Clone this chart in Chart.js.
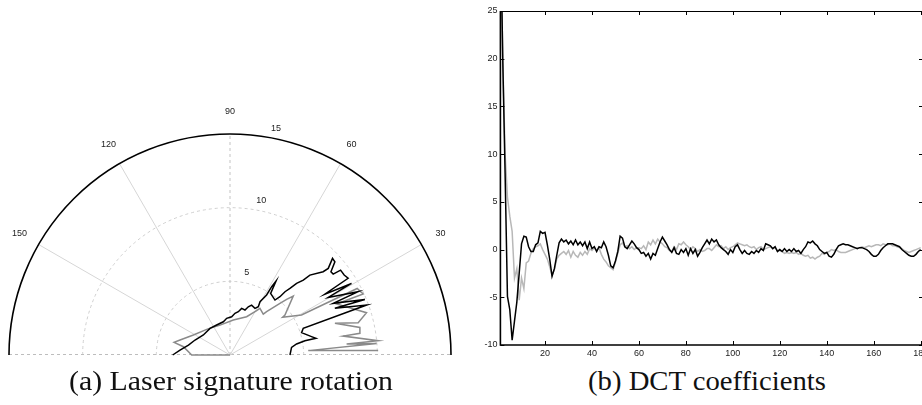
<!DOCTYPE html>
<html>
<head>
<meta charset="utf-8">
<script src="https://cdn.jsdelivr.net/npm/chart.js@4/dist/chart.umd.min.js"></script>
<style>
  html, body { margin:0; padding:0; background:#fff; width:922px; height:405px; overflow:hidden; }
  #wrap { position:relative; width:922px; height:405px; overflow:hidden; }
  #polar { position:absolute; left:0; top:0; }
  #dct { position:absolute; left:440px; top:0; }
  .cap { position:absolute; top:366px; font-family:"Liberation Serif","Times New Roman",serif; font-size:27px; color:#111; white-space:nowrap; transform-origin:left top; }
</style>
</head>
<body>
<div id="wrap">
  <canvas id="dct" width="520" height="360"></canvas>
  <canvas id="polar" width="460" height="360"></canvas>
  <div class="cap" id="capA">(a) Laser signature rotation</div>
  <div class="cap" id="capB">(b) DCT coefficients</div>
</div>
<script>
// ---------- Panel (a): laser signature (polar: angle in degrees, range) ----------
const blackTheta = [180, 174.3, 166.5, 156.8, 143.1, 126.9, 114.0, 101.3, 95.2, 87.5, 83.2, 79.1, 76.0, 71.6, 69.2, 66.6, 61.8, 59.6, 60.6, 58.6, 58.6, 58.1, 56.6, 50.7, 49.4, 49.0, 48.0, 47.1, 45.6, 45.0, 41.8, 41.4, 43.3, 41.6, 39.5, 38.1, 37.5, 35.0, 33.0, 32.7, 30.5, 30.4, 26.3, 26.6, 22.4, 24.0, 20.1, 20.0, 17.3, 12.7, 11.0, 10.8, 9.4, 7.1, 0];
const blackRho   = [3.89, 3.41, 2.90, 2.58, 2.26, 2.26, 2.23, 2.30, 2.50, 2.60, 2.85, 2.99, 3.26, 3.22, 3.50, 3.69, 3.59, 3.80, 4.15, 4.77, 5.43, 5.91, 5.01, 4.82, 5.21, 5.69, 6.08, 6.64, 7.11, 7.67, 8.48, 8.89, 9.56, 9.52, 8.88, 8.90, 9.46, 9.46, 9.56, 7.65, 9.57, 7.73, 9.70, 7.83, 9.90, 7.79, 9.87, 5.29, 5.09, 5.67, 5.94, 5.18, 4.58, 4.21, 4.07];
const grayTheta  = [180, 180, 169.9, 167.3, 163.3, 151.4, 132.3, 108.4, 84.6, 66.5, 59.0, 57.3, 50.9, 49.8, 45.9, 44.5, 43.0, 36.0, 35.6, 29.2, 27.6, 24.6, 25.6, 17.2, 14.1, 16.8, 12.0, 9.5, 9.5, 5.5, 5.4, 4.5, 3.2, 1.7];
const grayRho    = [0, 2.60, 3.21, 3.89, 3.54, 2.83, 2.35, 2.14, 2.38, 2.83, 3.51, 3.76, 3.58, 3.85, 4.87, 5.39, 5.87, 4.61, 4.39, 5.56, 9.74, 9.94, 8.02, 9.70, 8.97, 7.44, 9.01, 8.94, 7.79, 10.10, 7.95, 9.98, 5.32, 10.06];
const rhoRings   = [5, 10, 15];
const angleTicks = [30, 60, 90, 120, 150];

// ---------- Panel (b): DCT coefficients ----------
const dctBlack = [
  35, 20, 8, -4.9, -6.3, -9.5, -7.5, -5.5, -2.5, 0.6,
  1.4, 1.3, 0.3, -0.2, -0.2, 0.5, 0.7, 1.9, 1.7, 1.8,
  0.5, -1.0, -2.8, -2.0, -0.6, 0.7, 1.1, 0.8, 1.0, 0.6,
  0.9, 0.5, 1.0, 0.5, 0.8, 0.4, 0.8, 0.1, 0.8, 0.1,
  0.3, -0.2, 0.3, 0.2, 0.8, 0.3, -0.6, -1.7, -1.9, -1.2,
  -0.2, 1.4, 1.2, 0.3, 0.1, 0.5, 0.9, 0.6, 0.2, 0.0,
  -0.4, -0.3, -0.7, -0.4, -1.0, -0.4, -0.6, 0.1, 0.8, 1.3,
  0.9, 0.5, 0.0, -0.3, 0.2, -0.4, -0.5, 0.0, -0.3, 0.1,
  -0.6, 0.1, -0.4, 0.0, -0.7, -0.3, 0.2, 0.6, 1.0, 0.6,
  1.1, 0.8, 1.0, 0.5, 0.2, 0.0, -0.2, -0.5, 0.0, -0.3,
  0.3, 0.5, 0.0, -0.4, -0.1, -0.4, -0.5, -0.2, -0.4, -0.1,
  -0.3, 0.1, -0.1, 0.6, 0.5, 0.4, 0.1, 0.3, -0.2, 0.0,
  -0.2, 0.1, -0.2, 0.0, -0.2, 0.1, -0.2, -0.1, -0.4, 0.0,
  0.3, 0.8, 0.7, 0.9, 0.6, 0.4, 0.0, -0.2, -0.4, -0.3,
  -0.7, -0.8, -0.5, 0.0, 0.4, 0.5, 0.6, 0.5, 0.5, 0.4,
  0.3, 0.2, 0.1, 0.2, 0.2, 0.1, 0.0, -0.2, -0.5, -0.7,
  -0.7, -0.5, -0.1, 0.2, 0.4, 0.6, 0.6, 0.6, 0.5, 0.4,
  0.3, 0.0, -0.2, -0.4, -0.6, -0.7, -0.7, -0.5, -0.2, 0.0
];
const dctGray = [
  35, 20, 10, 5.5, 3.5, 1.9, -3.0, -2.0, -5.3, -3.0,
  -4.1, -1.4, -1.2, -0.4, 0.1, 0.3, 0.4, 0.6, 0.0, -0.5,
  -1.0, -1.8, -2.7, -2.1, -1.0, -0.6, -0.4, -0.2, -0.5, -0.1,
  -0.8, -0.2, -0.6, -0.8, -0.3, -0.6, -0.2, -0.5, 0.1, -0.1,
  0.2, -0.1, 0.2, -0.5, -1.0, -1.3, -1.7, -1.9, -2.1, -1.3,
  -0.4, 0.5, 0.7, 0.3, 0.4, 0.1, 0.3, 0.0, 0.2, 0.2,
  0.1, 0.4, 0.0, 0.8, 0.5, 1.0, 0.6, 1.1, 0.8, 0.6,
  0.3, 0.2, -0.1, -0.2, 0.3, 0.0, 0.6, 0.5, 0.8, 0.5,
  0.3, 0.0, 0.3, 0.1, -0.2, 0.0, -0.2, -0.1, 0.1, 0.1,
  -0.1, 0.2, 0.5, 0.3, 0.4, 0.1, 0.3, 0.0, 0.2, 0.3,
  0.5, 0.7, 0.6, 0.5, 0.4, 0.5, 0.3, 0.2, 0.3, 0.0,
  0.2, 0.3, 0.0, 0.1, 0.2, 0.3, 0.1, 0.2, -0.1, -0.1,
  -0.2, -0.4, -0.3, -0.4, -0.3, -0.4, -0.3, -0.5, -0.4, -0.6,
  -0.7, -0.6, -0.9, -0.8, -1.0, -0.8, -0.7, -0.4, -0.5, -0.3,
  -0.2, 0.0, -0.1, 0.0, -0.2, -0.3, -0.3, -0.3, -0.2, -0.1,
  0.0, 0.1, 0.2, 0.2, 0.3, 0.2, 0.3, 0.4, 0.3, 0.4,
  0.5, 0.5, 0.4, 0.6, 0.5, 0.5, 0.6, 0.4, 0.4, 0.3,
  0.2, 0.1, -0.1, -0.2, -0.3, -0.2, -0.1, 0.0, 0.1, 0.2
];
const dctXTicks = [20, 40, 60, 80, 100, 120, 140, 160, 180];
const dctYTicks = [-10, -5, 0, 5, 10, 15, 20, 25];

const FONT = { family: '"Liberation Sans", Arial, sans-serif', size: 9 };
const TXT = '#222';
const deg = Math.PI / 180;

function toXY(theta, rho) {
  return theta.map((t, i) => ({ x: rho[i] * Math.cos(t * deg), y: rho[i] * Math.sin(t * deg) }));
}
const rMax = rhoRings[rhoRings.length - 1];

const polarPlugin = {
  id: 'polarGrid',
  beforeDatasetsDraw(chart) {
    const { ctx, scales: { x, y } } = chart;
    const cx = x.getPixelForValue(0), cy = y.getPixelForValue(0);
    const u = x.getPixelForValue(1) - cx;
    ctx.save();
    ctx.lineWidth = 1;
    // dashed rings
    ctx.strokeStyle = '#cfcfcf';
    ctx.setLineDash([3, 3]);
    rhoRings.forEach(r => {
      if (r >= rMax) return;
      ctx.beginPath(); ctx.arc(cx, cy, r * u, Math.PI, 2 * Math.PI); ctx.stroke();
    });
    // baseline (0/180) dashed
    ctx.strokeStyle = '#bdbdbd';
    ctx.beginPath(); ctx.moveTo(cx - rMax * u, cy - 0.5); ctx.lineTo(cx + rMax * u, cy - 0.5); ctx.stroke();
    // spokes
    angleTicks.forEach(a => {
      const dashed = a === 90;
      ctx.setLineDash(dashed ? [3, 3] : []);
      ctx.strokeStyle = dashed ? '#c4c4c4' : '#d6d6d6';
      ctx.beginPath();
      ctx.moveTo(cx, cy);
      ctx.lineTo(cx + rMax * u * Math.cos(a * deg), cy - rMax * u * Math.sin(a * deg));
      ctx.stroke();
    });
    ctx.restore();
  },
  afterDatasetsDraw(chart) {
    const { ctx, scales: { x, y } } = chart;
    const cx = x.getPixelForValue(0), cy = y.getPixelForValue(0);
    const u = x.getPixelForValue(1) - cx;
    ctx.save();
    ctx.strokeStyle = '#000'; ctx.lineWidth = 1.6; ctx.setLineDash([]);
    ctx.beginPath(); ctx.arc(cx, cy, rMax * u, Math.PI, 2 * Math.PI); ctx.stroke();
    ctx.fillStyle = TXT;
    ctx.font = FONT.size + 'px ' + FONT.family;
    ctx.textAlign = 'center'; ctx.textBaseline = 'middle';
    const rl = rMax * u * 1.1;
    angleTicks.forEach(a => {
      ctx.fillText(String(a), cx + rl * Math.cos(a * deg), cy - rl * Math.sin(a * deg));
    });
    const la = 78.5 * deg;
    rhoRings.forEach(r => {
      const rr = r * u + 10;
      ctx.fillText(String(r), cx + rr * Math.cos(la), cy - rr * Math.sin(la));
    });
    ctx.restore();
  }
};

new Chart(document.getElementById('polar'), {
  type: 'scatter',
  data: {
    datasets: [
      { label: 'black', data: toXY(blackTheta, blackRho), showLine: true, borderColor: '#000', borderWidth: 1.5, pointRadius: 0, tension: 0, order: 0 },
      { label: 'gray', data: toXY(grayTheta, grayRho), showLine: true, borderColor: '#8a8a8a', borderWidth: 1.5, pointRadius: 0, tension: 0, order: 1 }
    ]
  },
  options: {
    responsive: false, animation: false, devicePixelRatio: 1,
    layout: { padding: { left: 9, right: 9, top: 134, bottom: 5 } },
    plugins: { legend: { display: false }, tooltip: { enabled: false } },
    scales: {
      x: { type: 'linear', min: -rMax, max: rMax, display: false },
      y: { type: 'linear', min: 0, max: rMax, display: false }
    },
    clip: false
  },
  plugins: [polarPlugin]
});

// ---------- DCT chart ----------
const framePlugin = {
  id: 'frame',
  afterDatasetsDraw(chart) {
    const { ctx, chartArea: a, scales: { x, y } } = chart;
    ctx.save();
    ctx.strokeStyle = '#000';
    ctx.lineWidth = 1;
    const tl = 4;
    ctx.beginPath();
    dctXTicks.forEach(v => {
      const px = Math.round(x.getPixelForValue(v)) + 0.5;
      ctx.moveTo(px, a.bottom); ctx.lineTo(px, a.bottom - tl);
      ctx.moveTo(px, a.top); ctx.lineTo(px, a.top + tl);
    });
    dctYTicks.forEach(v => {
      const py = Math.round(y.getPixelForValue(v)) + 0.5;
      ctx.moveTo(a.left, py); ctx.lineTo(a.left + tl, py);
      ctx.moveTo(a.right, py); ctx.lineTo(a.right - tl, py);
    });
    ctx.stroke();
    ctx.beginPath();
    ctx.moveTo(a.left, a.top + 0.5); ctx.lineTo(a.right, a.top + 0.5);
    ctx.moveTo(a.right - 0.5, a.top); ctx.lineTo(a.right - 0.5, a.bottom);
    ctx.stroke();
    ctx.lineWidth = 1.6;
    ctx.beginPath();
    ctx.moveTo(a.left, a.top); ctx.lineTo(a.left, a.bottom); ctx.lineTo(a.right, a.bottom);
    ctx.stroke();
    ctx.restore();
  }
};

const idx = dctBlack.map((_, i) => i + 1);
new Chart(document.getElementById('dct'), {
  type: 'line',
  data: {
    datasets: [
      { label: 'black', data: idx.map((k, i) => ({ x: k, y: dctBlack[i] })), borderColor: '#000', borderWidth: 1.5, pointRadius: 0, tension: 0, order: 0 },
      { label: 'gray', data: idx.map((k, i) => ({ x: k, y: dctGray[i] })), borderColor: '#b8b8b8', borderWidth: 1.5, pointRadius: 0, tension: 0, order: 1 }
    ]
  },
  options: {
    responsive: false, animation: false, devicePixelRatio: 1,
    layout: { padding: { left: 0, right: 37, top: 11, bottom: 0 } },
    plugins: { legend: { display: false }, tooltip: { enabled: false } },
    scales: {
      x: {
        type: 'linear', min: 1, max: 181,
        grid: { display: false, drawTicks: false }, border: { display: false },
        ticks: { font: FONT, color: TXT, padding: 3, maxRotation: 0, autoSkip: false },
        afterBuildTicks: s => { s.ticks = dctXTicks.map(v => ({ value: v })); },
        afterFit: s => { s.height = 15; }
      },
      y: {
        type: 'linear', min: -10, max: 25,
        grid: { display: false, drawTicks: false }, border: { display: false },
        ticks: { font: FONT, color: TXT, padding: 3, autoSkip: false },
        afterBuildTicks: s => { s.ticks = dctYTicks.map(v => ({ value: v })); },
        afterFit: s => { s.width = 60.4; }
      }
    }
  },
  plugins: [framePlugin]
});

// captions: fit to measured widths
function fitCap(el, left, width) {
  const w = el.getBoundingClientRect().width;
  el.style.left = left + 'px';
  el.style.transform = 'scaleX(' + (width / w) + ')';
}
fitCap(document.getElementById('capA'), 69, 324);
fitCap(document.getElementById('capB'), 588, 238);
</script>
</body>
</html>
